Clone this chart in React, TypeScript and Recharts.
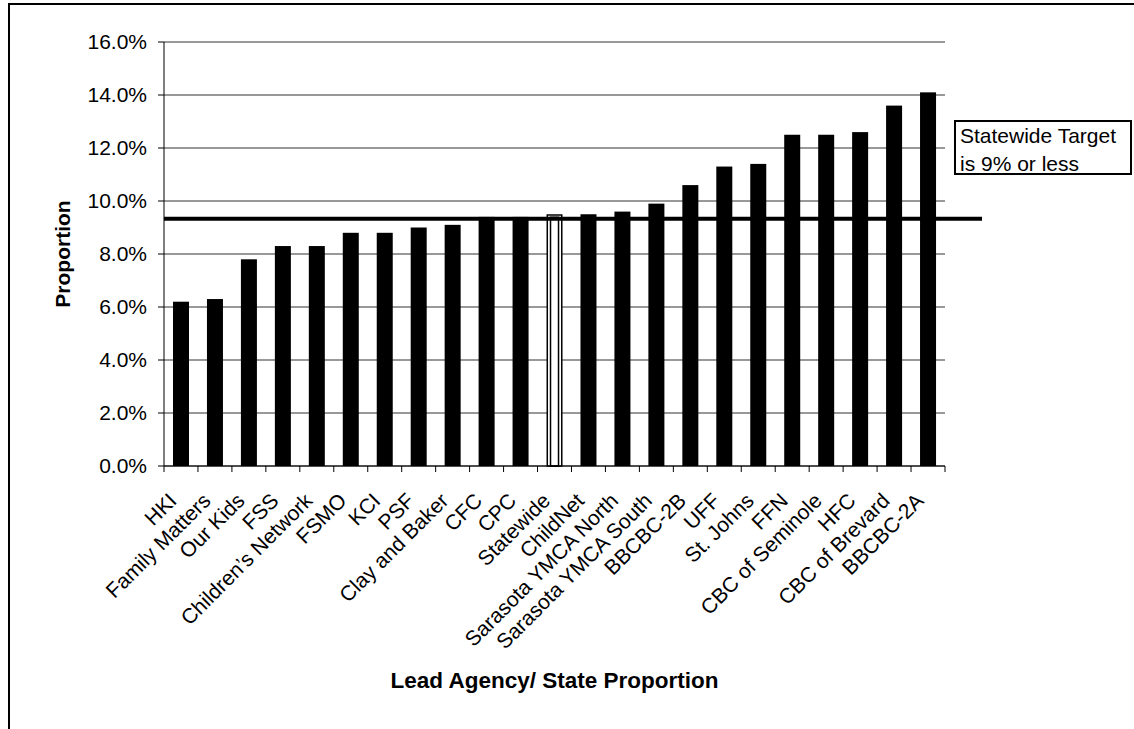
import { BarChart, Bar, XAxis, YAxis, CartesianGrid, ReferenceLine } from "recharts";

const FONT = '"Liberation Sans", Arial, sans-serif';

const agencies = [
  "HKI",
  "Family Matters",
  "Our Kids",
  "FSS",
  "Children\u2019s Network",
  "FSMO",
  "KCI",
  "PSF",
  "Clay and Baker",
  "CFC",
  "CPC",
  "Statewide",
  "ChildNet",
  "Sarasota YMCA North",
  "Sarasota YMCA South",
  "BBCBC-2B",
  "UFF",
  "St. Johns",
  "FFN",
  "CBC of Seminole",
  "HFC",
  "CBC of Brevard",
  "BBCBC-2A",
];

// proportion, in percent
const proportions = [
  6.2, 6.3, 7.8, 8.3, 8.3, 8.8, 8.8, 9.0, 9.1, 9.4, 9.4, 9.5, 9.5, 9.6, 9.9, 10.6, 11.3, 11.4, 12.5, 12.5, 12.6,
  13.6, 14.1,
];

const yTicks = [0, 2, 4, 6, 8, 10, 12, 14, 16];
const targetLine = 9.33;
const stateLabel = "Statewide";

const data = agencies.map((name, i) => ({ name, value: proportions[i] }));

function AgencyTick(props: any) {
  const { x, y, payload, index } = props;
  const half = payload?.offset ?? 17;
  const tx = x - 3;
  const ty = y + 36;
  return (
    <g>
      <line x1={x - half} y1={y} x2={x - half} y2={y + 6} stroke="#000" />
      {index === agencies.length - 1 && <line x1={x + half} y1={y} x2={x + half} y2={y + 6} stroke="#000" />}
      <text
        x={tx}
        y={ty}
        textAnchor="end"
        transform={`rotate(-45 ${tx} ${ty})`}
        fontSize={21}
        fontFamily={FONT}
        fill="#000"
      >
        {payload.value}
      </text>
    </g>
  );
}

function ProportionBar(props: any) {
  const { x, y, width, height, payload } = props;
  if (payload?.name === stateLabel) {
    return (
      <g>
        <rect x={x + 0.75} y={y + 0.75} width={width - 1.5} height={height - 0.75} fill="#fff" stroke="#000" strokeWidth={1.5} />
        <rect x={x + 4} y={y + 3} width={width - 8} height={height - 3} fill="none" stroke="#000" strokeWidth={1.5} />
      </g>
    );
  }
  return <rect x={x} y={y} width={width} height={height} fill="#000" />;
}

function TargetLine(props: any) {
  const { x1, y1, x2, y2 } = props;
  return <line x1={x1} y1={y1} x2={x2 + 37} y2={y2} stroke="#000" strokeWidth={4} />;
}

export default function App() {
  return (
    <div style={{ position: "absolute", left: 0, top: 0, width: 1134, height: 729, overflow: "hidden", fontFamily: FONT }}>
      <div
        style={{
          position: "absolute",
          left: 8,
          top: 3,
          width: 1200,
          height: 800,
          borderLeft: "2px solid #000",
          borderTop: "2px solid #000",
        }}
      />
      <div style={{ position: "absolute", left: 0, top: 0 }}>
        <BarChart width={1134} height={729} data={data} margin={{ top: 42, right: 189, left: 64, bottom: 33 }}>
          <CartesianGrid vertical={false} stroke="#333" />
          <XAxis
            dataKey="name"
            interval={0}
            height={230}
            tickSize={0}
            tickMargin={0}
            tickLine={false}
            axisLine={{ stroke: "#000" }}
            tick={<AgencyTick />}
            label={({ viewBox }: any) => (
              <text
                x={viewBox.x + viewBox.width / 2}
                y={viewBox.y + 222}
                textAnchor="middle"
                fontSize={22.5}
                fontWeight="bold"
                fontFamily={FONT}
                fill="#000"
              >
                Lead Agency/ State Proportion
              </text>
            )}
          />
          <XAxis xAxisId="top" dataKey="name" orientation="top" height={0} tick={false} tickLine={false} axisLine={{ stroke: "#808080", strokeWidth: 2 }} />
          <YAxis
            domain={[0, 16]}
            ticks={yTicks}
            width={100}
            tickSize={6}
            tickMargin={11}
            tickFormatter={(v) => `${Number(v).toFixed(1)}%`}
            tick={{ fill: "#000", fontSize: 21, fontFamily: FONT }}
            axisLine={{ stroke: "#000" }}
            tickLine={{ stroke: "#000" }}
            label={({ viewBox }: any) => {
              const lx = viewBox.x + 6;
              const ly = viewBox.y + viewBox.height / 2;
              return (
                <text
                  x={lx}
                  y={ly}
                  textAnchor="middle"
                  transform={`rotate(-90 ${lx} ${ly})`}
                  fontSize={21}
                  fontWeight="bold"
                  fontFamily={FONT}
                  fill="#000"
                >
                  Proportion
                </text>
              );
            }}
          />
          <YAxis yAxisId="right" orientation="right" domain={[0, 16]} width={0} tick={false} tickLine={false} axisLine={{ stroke: "#808080", strokeWidth: 2 }} />
          <Bar dataKey="value" barSize={16} shape={<ProportionBar />} isAnimationActive={false} />
          <ReferenceLine y={targetLine} shape={<TargetLine />} />
        </BarChart>
      </div>
      <div
        style={{
          position: "absolute",
          left: 954,
          top: 120,
          width: 170,
          height: 51,
          border: "2px solid #000",
          paddingLeft: 4,
          fontSize: 21,
          lineHeight: "28px",
          color: "#000",
          background: "#fff",
          whiteSpace: "nowrap",
        }}
      >
        Statewide Target
        <br />
        is 9% or less
      </div>
    </div>
  );
}
